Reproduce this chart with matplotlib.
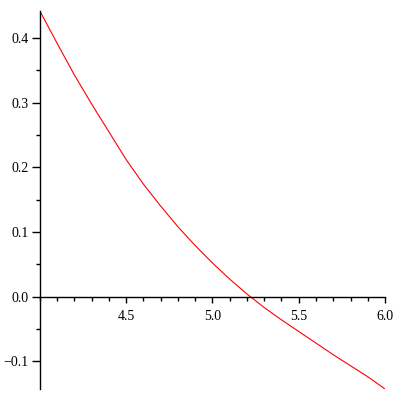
import matplotlib
matplotlib.use("Agg")
import matplotlib.pyplot as plt
from matplotlib.ticker import MultipleLocator, FixedLocator

x_vals = [4.0, 4.1, 4.2, 4.3, 4.4, 4.5, 4.6, 4.7, 4.8, 4.9, 5.0,
          5.1, 5.2, 5.3, 5.4, 5.5, 5.6, 5.7, 5.8, 5.9, 6.0]
y_vals = [0.442, 0.392, 0.343, 0.298, 0.255, 0.212, 0.174, 0.140, 0.108, 0.079, 0.052,
          0.027, 0.004, -0.017, -0.036, -0.054, -0.072, -0.090, -0.107, -0.124, -0.143]

x_ticks = [4.5, 5.0, 5.5, 6.0]
x_tick_labels = ["4.5", "5.0", "5.5", "6.0"]
y_ticks = [-0.1, 0.0, 0.1, 0.2, 0.3, 0.4]
y_tick_labels = ["-0.1", "0.0", "0.1", "0.2", "0.3", "0.4"]

plt.rcParams['font.family'] = ['Liberation Serif', 'DejaVu Serif']

fig = plt.figure(figsize=(4, 4), dpi=100)
ax = fig.add_axes([0.0993, 0.0275, 0.8633, 0.9457])
ax.plot(x_vals, y_vals, color='red', lw=0.8)
ax.set_xlim(4.0, 6.0)
ax.set_ylim(-0.143, 0.442)

ax.spines['top'].set_visible(False)
ax.spines['right'].set_visible(False)
ax.spines['bottom'].set_position(('data', 0))
ax.spines['left'].set_linewidth(1.0)
ax.spines['bottom'].set_linewidth(1.0)

ax.xaxis.set_major_locator(FixedLocator(x_ticks))
ax.set_xticklabels(x_tick_labels)
ax.xaxis.set_minor_locator(MultipleLocator(0.1))
ax.yaxis.set_major_locator(FixedLocator(y_ticks))
ax.set_yticklabels([l.replace('-', '\u2212') for l in y_tick_labels])
ax.yaxis.set_minor_locator(MultipleLocator(0.05))

ax.tick_params(axis='x', which='major', direction='out', length=4, width=1, labelsize=10, pad=6)
ax.tick_params(axis='x', which='minor', direction='out', length=3, width=1)
ax.tick_params(axis='y', which='major', direction='out', length=6, width=1, labelsize=10, pad=2)
ax.tick_params(axis='y', which='minor', direction='out', length=3, width=1)

fig.savefig("out.png", dpi=100)
